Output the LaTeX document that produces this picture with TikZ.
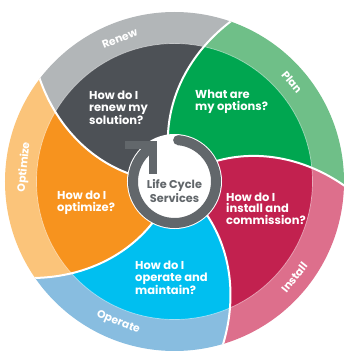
\documentclass[tikz,border=0pt]{standalone}
\usepackage{fontspec}
\setmainfont{Poppins}
\definecolor{dkpetal}{HTML}{4D5156}
\definecolor{dkband}{HTML}{B2B6B8}
\definecolor{grpetal}{HTML}{00A650}
\definecolor{grband}{HTML}{6FBF88}
\definecolor{rdpetal}{HTML}{C2214F}
\definecolor{rdband}{HTML}{DD6F8C}
\definecolor{blpetal}{HTML}{00BFF0}
\definecolor{blband}{HTML}{88BDE0}
\definecolor{orpetal}{HTML}{F7931E}
\definecolor{orband}{HTML}{FBC47A}
\definecolor{ringc}{HTML}{62676B}
\newcommand\sectorfill[2]{\fill[#2] (0,0) -- plot[domain=20:176,samples=40] ({#1-0.223*(\x-47)}:{\x pt}) -- ({#1-64.5}:260pt) -- plot[domain=176:20,samples=40] ({#1-72-0.223*(\x-47)}:{\x pt}) -- cycle;}
\tikzset{
  petaltext/.style={text=white, font=\bfseries\fontsize{11.5}{11.6}\selectfont, align=left, anchor=west, inner sep=0pt},
  bandtext/.style={text=white, font=\bfseries\fontsize{10.8}{11}\selectfont, inner sep=0pt},
  sepline/.style={white, line width=2pt},
  centertext/.style={text=ringc, font=\bfseries\fontsize{11.3}{14}\selectfont, align=center, inner sep=0pt},
}
\begin{document}
\begin{tikzpicture}[x=1pt,y=1pt]
\useasboundingbox (-174.5,-169.5) rectangle (169.5,181.5);
\begin{scope}
  \clip (0,0) circle (169.5pt);
  \sectorfill{98}{grband}
  \sectorfill{26}{rdband}
  \sectorfill{-46}{blband}
  \sectorfill{-118}{orband}
  \sectorfill{-190}{dkband}
  \begin{scope}
    \clip (0,0) circle (138pt);
    \sectorfill{98}{grpetal}
    \sectorfill{26}{rdpetal}
    \sectorfill{-46}{blpetal}
    \sectorfill{-118}{orpetal}
    \sectorfill{-190}{dkpetal}
  \end{scope}
  \draw[white, opacity=0.5, line width=0.7pt] (0,0) circle (138pt);
  \foreach \a in {98,26,-46,-118,-190}{
    \draw[sepline] plot[domain=40:172,samples=40] ({\a-0.223*(\x-47)}:{\x pt});
  }
\end{scope}
% centre
\fill[white] (0,0) circle (47.5pt);
\draw[ringc, line width=10pt] (85:41.5pt) arc[start angle=85, end angle=-240, radius=41.5pt];
\fill[ringc] (85:41.5pt) circle (5pt);
\coordinate (tipA) at (-49,36.5);
\coordinate (tipC) at (-21.5,36.5);
\coordinate (tipB) at (-21.5,8);
\draw[ringc, line width=8pt, line join=miter] (tipA) -- (tipC) -- (tipB);
\node[centertext] (center) at (0,-10) {Life Cycle\\Services};
% petal texts
\node[petaltext] (renewq) at (-85.5,73.5) {How do I\\renew my\\solution?};
\node[petaltext] (planq) at (20.5,79.5) {What are\\my options?};
\node[petaltext] (installq) at (51.5,-27) {How do I\\install and\\commission?};
\node[petaltext] (operateq) at (-39.5,-96.5) {How do I\\operate and\\maintain?};
\node[petaltext] (optimizeq) at (-117.5,-21.5) {How do I\\optimize?};
% band labels
\node[bandtext, rotate=21] (renew) at (111:153pt) {Renew};
\node[bandtext, rotate=-49.7] (plan) at (40.3:154pt) {Plan};
\node[bandtext, rotate=51.3] (install) at (-38.7:153.5pt) {Install};
\node[bandtext, rotate=-21.8] (operate) at (248.2:152pt) {Operate};
\node[bandtext, rotate=84.5] (optimize) at (174.5:151pt) {Optimize};
\end{tikzpicture}
\end{document}
